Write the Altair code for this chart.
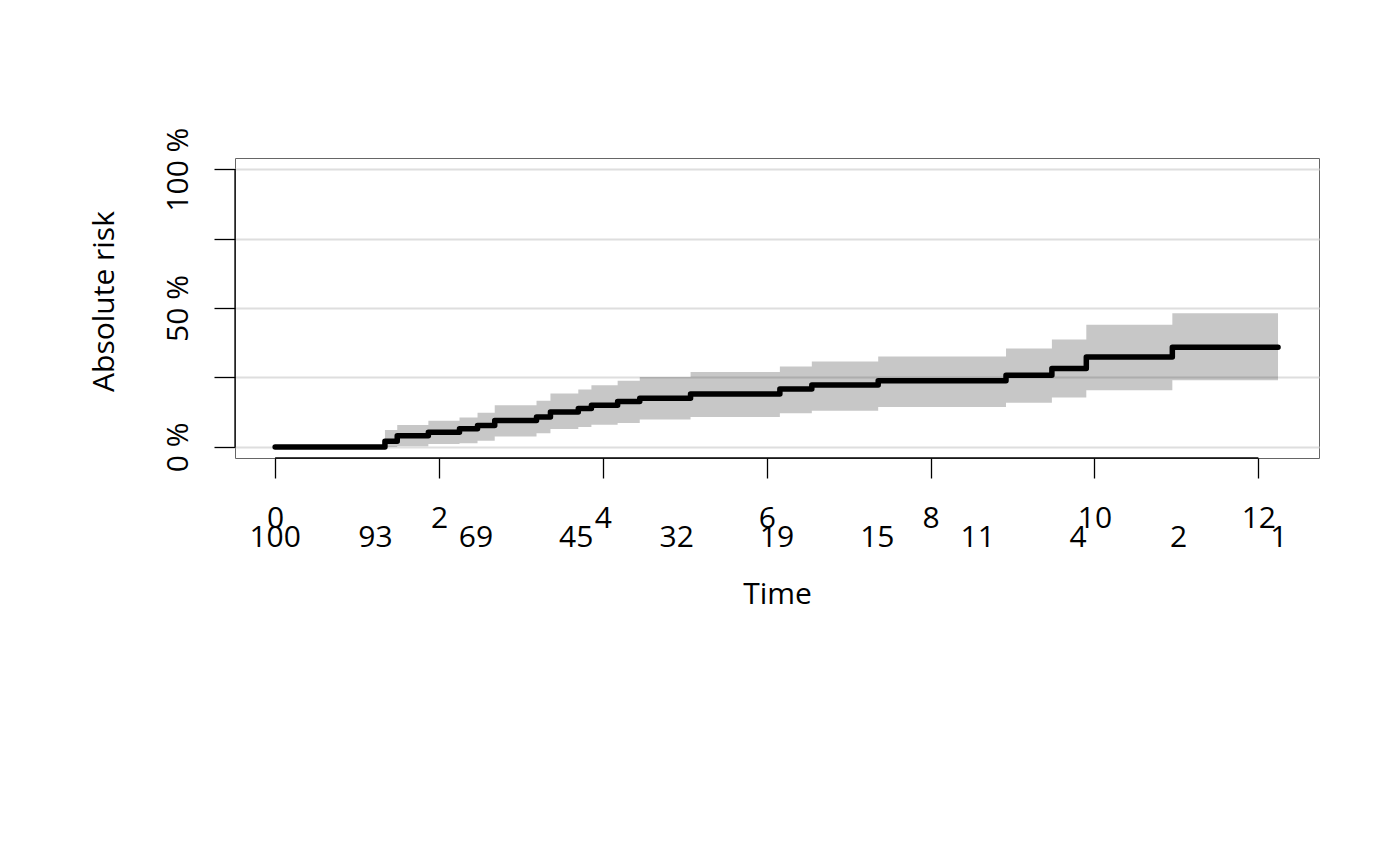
import altair as alt
import pandas as pd

# Step times and estimated absolute risk (%)
step_times = [0, 1.34, 1.49, 1.87, 2.25, 2.47, 2.68, 3.19, 3.36, 3.70, 3.86, 4.18,
              4.45, 5.07, 6.16, 6.55, 7.36, 8.92, 9.48, 9.90, 10.95, 12.24]
risk = [0, 2.0, 4.0, 5.3, 6.5, 7.7, 9.5, 10.8, 12.6, 13.8, 15.0, 16.3,
        17.5, 19.0, 20.8, 22.3, 23.8, 25.8, 28.2, 32.4, 35.9, 35.9]
# Confidence band (starts at first event)
ci_upper = [6.1, 7.9, 9.4, 10.6, 12.3, 15.0, 16.6, 19.2, 20.7, 22.2, 23.8,
            25.2, 27.0, 28.9, 30.7, 32.5, 35.4, 38.7, 44.0, 48.1, 48.1]
ci_lower = [0.0, 0.2, 1.0, 1.3, 2.2, 3.7, 4.9, 6.4, 7.2, 8.0, 8.6,
            9.9, 10.8, 12.1, 13.0, 14.4, 15.9, 17.8, 20.4, 24.0, 24.0]

# Number at risk table
risk_table_times = [0, 1.225, 2.45, 3.675, 4.9, 6.125, 7.35, 8.575, 9.8, 11.025, 12.25]
n_at_risk = [100, 93, 69, 45, 32, 19, 15, 11, 4, 2, 1]

x_ticks = [0, 2, 4, 6, 8, 10, 12]
y_ticks = [0, 25, 50, 75, 100]

FONT = "Open Sans"
FS = 30

line_df = pd.DataFrame({"time": step_times, "risk": risk})
band_df = pd.DataFrame({"time": step_times[1:], "upper": ci_upper, "lower": ci_lower})
table_df = pd.DataFrame({"time": risk_table_times, "n": n_at_risk})
yaxis_df = pd.DataFrame({"lo": [y_ticks[0]], "hi": [y_ticks[-1]]})
xaxis_df = pd.DataFrame({"lo": [x_ticks[0]], "hi": [x_ticks[-1]]})

x_scale = alt.Scale(domain=[-0.49, 12.74], nice=False, zero=False)
y_scale = alt.Scale(domain=[-4, 104], nice=False, zero=False)

x_axis = alt.Axis(
    values=x_ticks, format="d", tickSize=20, tickColor="black", tickWidth=1.3, domain=False,
    grid=False, labelFont=FONT, labelFontSize=FS, labelColor="black",
    labelPadding=49, labelBaseline="alphabetic", labelFlush=False, labelOverlap=False,
    title="Time", titleFont=FONT, titleFontSize=FS, titleFontWeight="normal",
    titleColor="black", titleY=145, titleBaseline="alphabetic",
)
y_axis = alt.Axis(
    values=y_ticks, tickSize=21, tickColor="black", tickWidth=1.3, domain=False,
    grid=True, gridColor="#dedede", gridWidth=2,
    labelExpr="datum.value % 50 == 0 ? datum.value + ' %' : ''",
    labelFont=FONT, labelFontSize=FS, labelColor="black", labelAngle=270,
    labelAlign="center", labelBaseline="bottom", labelPadding=21,
    labelFlush=False, labelOverlap=False,
    title="Absolute risk", titleFont=FONT, titleFontSize=FS, titleFontWeight="normal",
    titleColor="black", titleAngle=270, titleX=-122, titleY=143,
    titleAlign="center", titleBaseline="alphabetic",
)

band = alt.Chart(band_df).mark_area(
    interpolate="step-after", color="black", opacity=0.22
).encode(
    x=alt.X("time:Q", scale=x_scale, axis=x_axis),
    y=alt.Y("upper:Q", scale=y_scale, axis=y_axis),
    y2="lower:Q",
)

line = alt.Chart(line_df).mark_line(
    interpolate="step-after", color="black", strokeWidth=5.5,
    strokeCap="round", strokeJoin="round"
).encode(
    x=alt.X("time:Q", scale=x_scale),
    y=alt.Y("risk:Q", scale=y_scale),
)

y_axis_line = alt.Chart(yaxis_df).mark_rule(color="black", strokeWidth=1.3).encode(
    x=alt.value(0),
    y=alt.Y("lo:Q", scale=y_scale),
    y2="hi:Q",
)
x_axis_line = alt.Chart(xaxis_df).mark_rule(color="black", strokeWidth=1.3).encode(
    x=alt.X("lo:Q", scale=x_scale),
    x2="hi:Q",
    y=alt.value(300),
)

table = alt.Chart(table_df).mark_text(
    font=FONT, fontSize=FS, color="black", align="center", baseline="alphabetic"
).encode(
    x=alt.X("time:Q", scale=x_scale),
    y=alt.value(389),
    text="n:Q",
)

chart = alt.layer(band, line, y_axis_line, x_axis_line, table).properties(
    width=1084,
    height=300,
    autosize=alt.AutoSizeParams(type="none"),
    padding={"left": 227, "top": 150, "right": 60, "bottom": 380},
    background="white",
).configure_view(stroke="#666666", strokeWidth=1)

chart.save("out.html", embed_options={"renderer": "svg", "actions": False})
